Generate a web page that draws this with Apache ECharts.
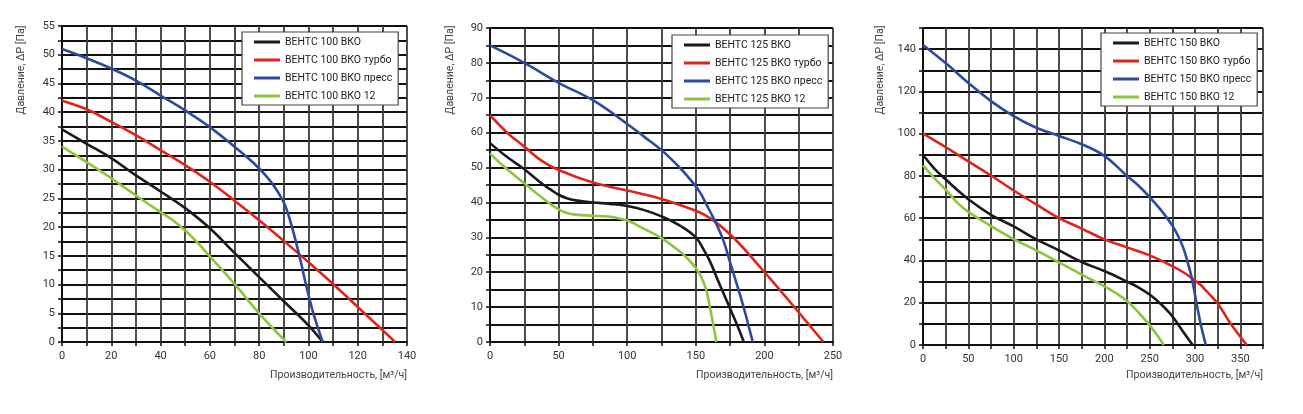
<!DOCTYPE html>
<html>
<head>
<meta charset="utf-8">
<script src="https://cdn.jsdelivr.net/npm/echarts@6/dist/echarts.min.js"></script>
<style>
  html, body { margin: 0; padding: 0; background: #fff; }
  #main { width: 1303px; height: 414px; }
</style>
</head>
<body>
<div id="main"></div>
<script>
// ---- данные (расход м3/ч, давление Па) ----
var names100 = ["ВЕНТС 100 ВКО", "ВЕНТС 100 ВКО турбо", "ВЕНТС 100 ВКО пресс", "ВЕНТС 100 ВКО 12"];
var vko100 = [[0, 37], [10, 34.5], [20, 32], [30, 29], [40, 26.2], [50, 23.3], [60, 19.8], [70, 15.5], [80, 11.3], [90, 7.1], [100, 2.9], [105.8, 0]];
var turbo100 = [[0, 42], [10, 40.5], [20, 38.3], [30, 36], [40, 33.4], [50, 30.8], [60, 27.9], [70, 24.6], [80, 21.2], [90, 17.6], [100, 13.9], [110, 10.1], [120, 6.1], [130, 2.1], [135.2, 0]];
var press100 = [[0, 51], [10, 49.4], [20, 47.6], [30, 45.5], [40, 42.9], [50, 40.3], [60, 37.4], [70, 34], [75, 32.2], [80, 30.2], [84, 28.3], [87.5, 26.2], [90.5, 23.8], [93, 20.5], [95, 17.3], [97, 13.8], [99, 10], [102, 5], [105.8, 0]];
var v12_100 = [[0, 34], [10, 31.3], [20, 28.5], [30, 25.5], [40, 22.6], [45, 21.2], [50, 19.4], [55, 17.3], [60, 14.9], [70, 10.1], [80, 5], [91, 0]];

var names125 = ["ВЕНТС 125 ВКО", "ВЕНТС 125 ВКО турбо", "ВЕНТС 125 ВКО пресс", "ВЕНТС 125 ВКО 12"];
var vko125 = [[0, 57], [12.5, 53], [25, 49.5], [37.5, 45.5], [43.75, 43.8], [50, 42.2], [56, 41.2], [62.5, 40.6], [75, 40], [87.5, 39.6], [100, 39], [112.5, 37.8], [125, 36], [137.5, 33.6], [150, 30], [156, 26.3], [160, 23.4], [166, 17.8], [174.5, 10], [180, 5], [185, 0]];
var turbo125 = [[0, 65], [12.5, 60], [25, 56], [37.5, 52], [50, 49.3], [75, 45.7], [100, 43.4], [125, 41], [137.5, 39.4], [150, 37.6], [157, 36.3], [163, 34.8], [170, 32.6], [177, 30.1], [188, 25.5], [199, 20.5], [210, 15.5], [221, 10.4], [232, 5.2], [243, 0]];
var press125 = [[0, 85], [25, 80], [50, 74.3], [75, 69.3], [100, 62.5], [112.5, 58.8], [125, 55], [137.5, 50.3], [144, 47.5], [150, 44.6], [153.5, 42.6], [157, 40], [163.5, 35], [170, 29.2], [175, 22.8], [181.5, 14.5], [186.5, 7.6], [191.5, 0]];
var v12_125 = [[0, 54], [12.5, 49.5], [25, 45.5], [37.5, 41.5], [43.75, 39.6], [50, 38], [56, 37], [62.5, 36.5], [75, 36.2], [87.5, 35.9], [100, 34.8], [112.5, 32.4], [125, 29.8], [137.5, 26.2], [145, 23.5], [150, 21.2], [153, 19.3], [156, 16.8], [158.5, 13.5], [160.5, 9.5], [162.7, 5], [165, 0]];

var names150 = ["ВЕНТС 150 ВКО", "ВЕНТС 150 ВКО турбо", "ВЕНТС 150 ВКО пресс", "ВЕНТС 150 ВКО 12"];
var vko150 = [[0, 90], [12.5, 83.5], [25, 78.4], [37.5, 73.5], [50, 69], [75, 61.6], [100, 56.1], [125, 50], [150, 44.8], [175, 39.3], [200, 35], [225, 30], [237.5, 27.3], [250, 23.9], [262.5, 19.3], [275, 13.6], [287.5, 5.9], [297.5, 0]];
var turbo150 = [[0, 100], [25, 93.6], [50, 86.9], [75, 80.2], [100, 73.1], [125, 66.5], [150, 60], [175, 55.1], [200, 50], [225, 46.2], [250, 42.4], [275, 37.3], [287.5, 34.3], [300, 30.5], [306, 28.5], [312.5, 25.6], [319, 22.6], [325, 19.6], [331, 15.7], [337.5, 11.2], [347.5, 5.3], [357, 0]];
var press150 = [[0, 142], [25, 133.4], [50, 124], [75, 115.4], [100, 108.3], [125, 102.8], [150, 98.9], [175, 95], [200, 89.5], [225, 80], [237.5, 75.5], [250, 70], [262.5, 63.8], [275, 56.5], [282, 51], [287.5, 45.5], [292, 39], [296, 32.5], [299.5, 25], [302.5, 18], [306.5, 9.5], [312, 0]];
var v12_150 = [[0, 85], [12.5, 79], [25, 73.5], [37.5, 67.5], [50, 63], [75, 56.3], [100, 50.1], [125, 44.8], [150, 39.1], [175, 33.3], [200, 27.8], [212.5, 24.6], [225, 20.8], [237.5, 15.5], [250, 9.3], [258, 4.8], [265.5, 0]];

// оси: [max, шаг сетки, шаг подписей]
var xAxes = [[140, 10, 20], [250, 25, 50], [375, 25, 50]];
var yAxes = [[55, 2.5, 5], [90, 5, 10], [150, 10, 20]];

var colors = ["#1a1a1a", "#e2231a", "#2c4a9e", "#8cc63f"];
var font = "Roboto";
var xTitle = "Производительность, [м³/ч]";
var yTitle = "Давление, ΔP [Па]";

var grids = [
  { left: 62, top: 26, width: 345, height: 316 },
  { left: 490, top: 28, width: 343, height: 314 },
  { left: 923, top: 28, width: 340, height: 317 }
];
var legendPos = [[242, 32], [672, 35], [1101, 33]];
var allNames = [names100, names125, names150];
var allData = [
  [vko100, turbo100, press100, v12_100],
  [vko125, turbo125, press125, v12_125],
  [vko150, turbo150, press150, v12_150]
];

function makeAxis(cfg, idx, isX) {
  var labelStep = cfg[2];
  return {
    type: "value",
    gridIndex: idx,
    min: 0,
    max: cfg[0],
    interval: cfg[1],
    axisLine: { show: true, onZero: false, lineStyle: { color: "#111", width: 2 } },
    axisTick: { show: true, length: 4, lineStyle: { color: "#111", width: 1.5 } },
    axisLabel: {
      color: "#333",
      fontFamily: font,
      fontSize: 11,
      margin: isX ? 9 : 7,
      formatter: function(v) {
        return Math.abs(v / labelStep - Math.round(v / labelStep)) < 1e-6 ? String(v) : "";
      }
    },
    splitLine: { show: true, lineStyle: { color: isX ? "#3a3a3a" : "#111", width: 1.8 } }
  };
}

var xAxis = [], yAxis = [], series = [], legend = [], graphic = [];
var yTitleX = [21, 450, 880];
for (var i = 0; i < 3; i++) {
  xAxis.push(makeAxis(xAxes[i], i, true));
  yAxis.push(makeAxis(yAxes[i], i, false));
  legend.push({
    orient: "vertical",
    left: legendPos[i][0],
    top: legendPos[i][1],
    data: allNames[i],
    icon: "rect",
    itemWidth: 26,
    itemHeight: 3,
    itemGap: 4,
    padding: [3, 6, 2, 12],
    backgroundColor: "#fff",
    borderColor: "#444",
    borderWidth: 1.2,
    borderRadius: 0,
    textStyle: { color: "#222", fontFamily: font, fontSize: 10.5, lineHeight: 14 },
    selectedMode: false
  });
  for (var k = 0; k < 4; k++) {
    series.push({
      name: allNames[i][k],
      type: "line",
      xAxisIndex: i,
      yAxisIndex: i,
      data: allData[i][k],
      smooth: 0.4,
      symbol: "none",
      color: colors[k],
      lineStyle: { width: 2.6, color: colors[k] },
      z: 5
    });
  }
  var g = grids[i];
  graphic.push({
    type: "text",
    x: g.left + g.width,
    y: 375,
    style: { text: xTitle, fill: "#444", font: "10.5px " + font, align: "right", verticalAlign: "middle" }
  });
  // подпись оси Y (повернутая)
  graphic.push({
    type: "text",
    x: yTitleX[i],
    y: 70,
    rotation: Math.PI / 2,
    style: { text: yTitle, fill: "#444", font: "10.5px " + font, align: "center", verticalAlign: "middle" }
  });
}

var myChart = echarts.init(document.getElementById("main"));
myChart.setOption({
  backgroundColor: "#fff",
  animation: false,
  grid: grids,
  xAxis: xAxis,
  yAxis: yAxis,
  legend: legend,
  series: series,
  graphic: graphic
});
</script>
</body>
</html>
